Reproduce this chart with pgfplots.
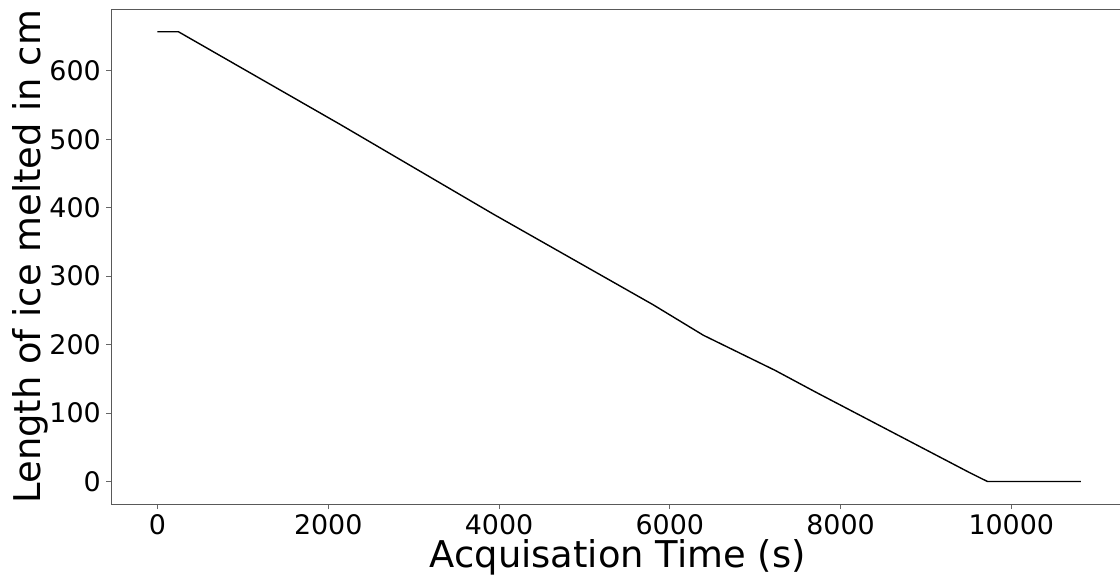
\documentclass[border=0pt]{standalone}
\usepackage{fontspec}
\setmainfont{DejaVu Sans}
\usepackage{pgfplots}
\pgfplotsset{compat=1.18}
\begin{document}
\begin{tikzpicture}
\begin{axis}[
  scale only axis,
  width=1008.7bp, height=494.7bp,
  xmin=-540.8, xmax=11273,
  ymin=-32.85, ymax=689.85,
  axis x line*=box, axis y line*=left,
  axis line style={black!65, line width=1bp},
  xtick={0,2000,...,10000},
  ytick={0,100,...,600},
  scaled ticks=false,
  xtick pos=left, ytick pos=left,
  tick align=outside,
  major tick length=5bp,
  every tick/.style={black!60, line width=0.9bp},
  /pgf/number format/1000 sep={},
  /pgf/number format/assume math mode=true,
  tick label style={font=\fontsize{27}{32}\selectfont},
  xticklabel style={yshift=-2bp},
  yticklabel style={xshift=-2bp},
  label style={font=\fontsize{37}{44}\selectfont},
  xlabel={Acquisation Time (s)},
  ylabel={Length of ice melted in cm},
  xlabel style={at={(axis description cs:0.502,-0.107)}, anchor=center},
  ylabel style={at={(axis description cs:-0.0806,0.5)}, anchor=center},
]
\addplot[black, line width=1.4bp, mark=none] coordinates {
  (0,657) (246,657) (2139,521.7) (3931,390.8) (5804,258.3)
  (6393,213.7) (7233,162.4) (7721,129.8) (9516,12.7)
  (9721,0) (10816,0)
};
\end{axis}
\pgfresetboundingbox
\path[use as bounding box] ([xshift=-111.3bp,yshift=-74bp]current axis.south west) rectangle ([yshift=9.3bp]current axis.north east);
\end{tikzpicture}
\end{document}
